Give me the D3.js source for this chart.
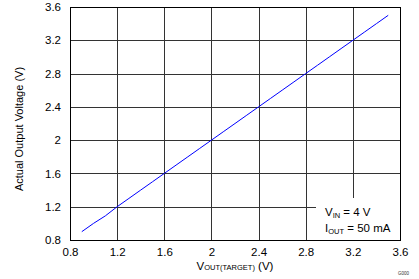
<!DOCTYPE html>
<html>
<head>
<meta charset="utf-8">
<script src="https://cdn.jsdelivr.net/npm/d3@7"></script>
<style>
  body { margin: 0; background: #fff; }
  svg { display: block; font-family: "Liberation Sans", Arial, sans-serif; }
</style>
</head>
<body>
<svg id="chart"></svg>
<script>
    const width = 419;
    const height = 279;

    // target output voltage (V)
    const vTarget = [0.9, 1.0, 1.1, 1.2, 1.3, 1.4, 1.5, 1.6, 1.7, 1.8, 1.9, 2.0, 2.1, 2.2,
                     2.3, 2.4, 2.5, 2.6, 2.7, 2.8, 2.9, 3.0, 3.1, 3.2, 3.3, 3.4, 3.5];
    // actual output voltage (V)
    const vActual = [0.9, 1.0, 1.09, 1.2, 1.3, 1.4, 1.5, 1.6, 1.7, 1.8, 1.9, 2.0, 2.1, 2.2,
                     2.3, 2.4, 2.5, 2.6, 2.7, 2.8, 2.9, 3.0, 3.1, 3.2, 3.3, 3.4, 3.5];

    const xTicks = [0.8, 1.2, 1.6, 2, 2.4, 2.8, 3.2, 3.6];
    const yTicks = [0.8, 1.2, 1.6, 2, 2.4, 2.8, 3.2, 3.6];

    const margin = {left: 70, top: 7, right: 19, bottom: 39};

    const svg = d3.select("#chart")
        .attr("width", width)
        .attr("height", height);

    const x = d3.scaleLinear().domain([0.8, 3.6]).range([margin.left, width - margin.right]);
    const y = d3.scaleLinear().domain([0.8, 3.6]).range([height - margin.bottom, margin.top]);

    const fmt = d => String(d);

    // grid
    svg.append("g")
        .selectAll("line")
        .data(xTicks.slice(1, -1))
        .enter().append("line")
        .attr("x1", d => Math.round(x(d)) + 0.5)
        .attr("x2", d => Math.round(x(d)) + 0.5)
        .attr("y1", y(3.6))
        .attr("y2", y(0.8))
        .attr("stroke", "#333")
        .attr("stroke-width", 1);

    svg.append("g")
        .selectAll("line")
        .data(yTicks.slice(1, -1))
        .enter().append("line")
        .attr("x1", x(0.8))
        .attr("x2", x(3.6))
        .attr("y1", d => Math.round(y(d)) + 0.5)
        .attr("y2", d => Math.round(y(d)) + 0.5)
        .attr("stroke", "#333")
        .attr("stroke-width", 1);

    // data line
    const line = d3.line()
        .x((d, i) => x(vTarget[i]))
        .y(d => y(d));

    svg.append("path")
        .datum(vActual)
        .attr("d", line)
        .attr("fill", "none")
        .attr("stroke", "#0000ff")
        .attr("stroke-width", 1);

    // legend box (covers grid)
    svg.append("rect")
        .attr("x", 316)
        .attr("y", 198)
        .attr("width", x(3.6) - 316)
        .attr("height", y(0.8) - 198)
        .attr("fill", "#fff");

    const leg = svg.append("g").attr("font-size", 11.5).attr("fill", "#000");
    const t1 = leg.append("text").attr("x", 325).attr("y", 216);
    t1.append("tspan").text("V");
    t1.append("tspan").attr("font-size", 7.5).attr("dy", 2).text("IN");
    t1.append("tspan").attr("dy", -2).text(" = 4 V");
    const t2 = leg.append("text").attr("x", 325).attr("y", 232);
    t2.append("tspan").text("I");
    t2.append("tspan").attr("font-size", 7.5).attr("dy", 2).text("OUT");
    t2.append("tspan").attr("dy", -2).text(" = 50 mA");

    // frame
    svg.append("rect")
        .attr("x", x(0.8) + 0.5)
        .attr("y", y(3.6) + 0.5)
        .attr("width", x(3.6) - x(0.8))
        .attr("height", y(0.8) - y(3.6))
        .attr("fill", "none")
        .attr("stroke", "#000")
        .attr("stroke-width", 1);

    // axes
    const xAxis = svg.append("g")
        .attr("transform", `translate(0,${y(0.8)})`)
        .call(d3.axisBottom(x).tickValues(xTicks).tickFormat(fmt).tickSize(0).tickPadding(8));
    const yAxis = svg.append("g")
        .attr("transform", `translate(${x(0.8)},0)`)
        .call(d3.axisLeft(y).tickValues(yTicks).tickFormat(fmt).tickSize(0).tickPadding(9));
    [xAxis, yAxis].forEach(a => {
        a.select(".domain").remove();
        a.selectAll("text")
            .attr("font-family", "Liberation Sans, Arial, sans-serif")
            .attr("font-size", 11.5)
            .attr("fill", "#000");
    });

    // axis titles
    svg.append("text")
        .attr("transform", `translate(23,129) rotate(-90)`)
        .attr("text-anchor", "middle")
        .attr("font-size", 11)
        .text("Actual Output Voltage (V)");

    const xt = svg.append("text")
        .attr("x", (x(0.8) + x(3.6)) / 2)
        .attr("y", 270)
        .attr("text-anchor", "middle")
        .attr("font-size", 11.5);
    xt.append("tspan").text("V");
    xt.append("tspan").attr("font-size", 7.5).text("OUT(TARGET)");
    xt.append("tspan").text(" (V)");

    svg.append("text")
        .attr("x", 409)
        .attr("y", 275)
        .attr("text-anchor", "end")
        .attr("font-size", 4.5)
        .attr("fill", "#333")
        .text("G000");
</script>
</body>
</html>
